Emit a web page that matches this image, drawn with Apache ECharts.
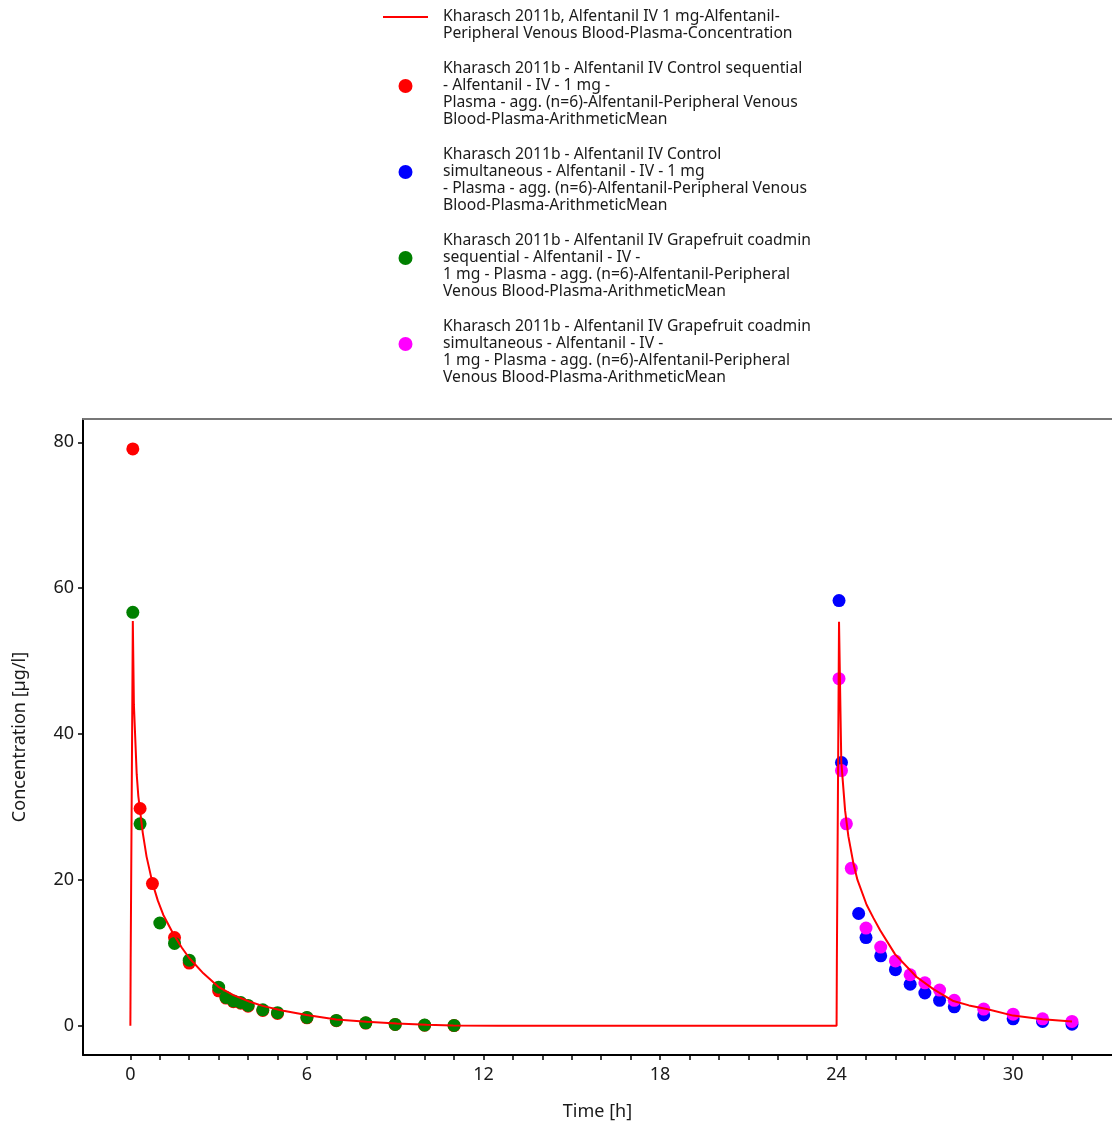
<!DOCTYPE html>
<html>
<head>
<meta charset="utf-8">
<title>Kharasch 2011b Alfentanil IV</title>
<script src="https://cdn.jsdelivr.net/npm/echarts@6/dist/echarts.min.js"></script>
<style>
html,body{margin:0;padding:0;background:#fff;}
#chart{width:1112px;height:1126px;}
</style>
</head>
<body>
<div id="chart"></div>
<script>
// simulation (line)
var simTime = [0, 0.01, 0.083, 0.12, 0.215, 0.27, 0.33, 0.42, 0.55, 0.75, 0.93, 1.12, 1.46, 1.75, 2.0, 2.48, 2.99, 3.5, 4.06, 4.52, 5.2, 5.99, 7.0, 8.03, 9.05, 10.07, 10.97, 12.5, 15, 24.0, 24.01, 24.083, 24.16, 24.29, 24.4, 24.57, 24.71, 25.02, 25.25, 25.48, 25.99, 26.72, 27.3, 27.97, 28.5, 29.1, 30.0, 31.0, 32.0];
var simConc = [0, 9, 55.5, 44, 34.5, 31.5, 29.5, 26.5, 23.2, 19.6, 17.2, 15.2, 12.6, 10.7, 9.3, 7.2, 5.35, 4.2, 3.3, 2.7, 2.06, 1.47, 0.88, 0.55, 0.33, 0.14, 0.05, 0.02, 0, 0, 9, 55.4, 36.2, 29.5, 26.0, 22.3, 20.0, 16.6, 14.8, 13.1, 9.8, 6.7, 5.0, 3.4, 2.8, 2.3, 1.4, 0.9, 0.6];

// observed: control sequential (red)
var ctlSeqTime = [0.083, 0.33, 0.75, 1.5, 2, 3, 3.25, 3.5, 3.75, 4, 4.5, 5, 6, 7, 8, 9, 10, 11];
var ctlSeqConc = [79.1, 29.8, 19.5, 12.1, 8.6, 4.8, 3.8, 3.3, 3.1, 2.7, 2.1, 1.7, 1.1, 0.7, 0.38, 0.18, 0.08, 0.03];

// observed: control simultaneous (blue)
var ctlSimTime = [24.083, 24.167, 24.75, 25, 25.5, 26, 26.5, 27, 27.5, 28, 29, 30, 31, 32];
var ctlSimConc = [58.3, 36.1, 15.4, 12.1, 9.6, 7.7, 5.7, 4.5, 3.5, 2.6, 1.5, 0.96, 0.6, 0.23];

// observed: grapefruit sequential (green)
var gfSeqTime = [0.083, 0.33, 1, 1.5, 2, 3, 3.25, 3.5, 3.75, 4, 4.5, 5, 6, 7, 8, 9, 10, 11];
var gfSeqConc = [56.7, 27.7, 14.1, 11.3, 9.0, 5.3, 3.9, 3.4, 3.2, 2.8, 2.2, 1.8, 1.15, 0.74, 0.41, 0.19, 0.1, 0.05];

// observed: grapefruit simultaneous (magenta)
var gfSimTime = [24.083, 24.167, 24.333, 24.5, 25, 25.5, 26, 26.5, 27, 27.5, 28, 29, 30, 31, 32];
var gfSimConc = [47.6, 35.0, 27.7, 21.6, 13.4, 10.8, 8.9, 7.0, 5.9, 4.9, 3.5, 2.3, 1.6, 0.96, 0.6];

var xTicks = [0,1,2,3,4,5,6,7,8,9,10,11,12,13,14,15,16,17,18,19,20,21,22,23,24,25,26,27,28,29,30,31,32];
var xLabels = [0, 6, 12, 18, 24, 30];
var yLabels = [0, 20, 40, 60, 80];

var names = [
	'Kharasch 2011b, Alfentanil IV 1 mg-Alfentanil-\nPeripheral Venous Blood-Plasma-Concentration',
	'Kharasch 2011b - Alfentanil IV Control sequential\n- Alfentanil - IV - 1 mg -\nPlasma - agg. (n=6)-Alfentanil-Peripheral Venous\nBlood-Plasma-ArithmeticMean',
	'Kharasch 2011b - Alfentanil IV Control\nsimultaneous - Alfentanil - IV - 1 mg\n- Plasma - agg. (n=6)-Alfentanil-Peripheral Venous\nBlood-Plasma-ArithmeticMean',
	'Kharasch 2011b - Alfentanil IV Grapefruit coadmin\nsequential - Alfentanil - IV -\n1 mg - Plasma - agg. (n=6)-Alfentanil-Peripheral\nVenous Blood-Plasma-ArithmeticMean',
	'Kharasch 2011b - Alfentanil IV Grapefruit coadmin\nsimultaneous - Alfentanil - IV -\n1 mg - Plasma - agg. (n=6)-Alfentanil-Peripheral\nVenous Blood-Plasma-ArithmeticMean'
];

function pairs(t, c){
	var out = [];
	for (var i = 0; i < t.length; i++) {
		out.push([t[i], c[i]]);
	}
	return out;
}

var font = 'Noto Sans';
var chart = echarts.init(document.getElementById('chart'));

function scatter(name, color, t, c){
	return {
		name: name,
		type: 'scatter',
		symbol: 'circle',
		symbolSize: 13,
		itemStyle: { color: color, opacity: 1 },
		data: pairs(t, c)
	};
}

var legendData = [{
	name: names[0],
	icon: 'path://M0,0 L45,0 L45,2 L0,2 Z',
	itemStyle: { color: '#ff0000' }
}, names[1], names[2], names[3], names[4]];

var option = {
	backgroundColor: '#fff',
	animation: false,
	textStyle: { fontFamily: font },
	legend: {
		orient: 'vertical',
		left: 383,
		top: -8,
		padding: 0,
		itemGap: 2,
		itemWidth: 45,
		itemHeight: 14,
		selectedMode: false,
		formatter: function(name){
			// spacer line pushes the text block below the marker, like the original
			return '{s| }\n' + name;
		},
		textStyle: {
			fontFamily: font,
			fontSize: 15.7,
			lineHeight: 17,
			color: '#1a1a1a',
			padding: [0, 0, 0, 10],
			rich: {
				s: { fontSize: 4, lineHeight: 16, height: 16 }
			}
		},
		data: legendData
	},
	grid: {
		left: 83,
		right: 0,
		top: 419,
		bottom: 71,
		containLabel: false
	},
	xAxis: [{
		type: 'value',
		min: -1.61,
		max: 33.36,
		name: 'Time [h]',
		nameLocation: 'middle',
		nameGap: 48,
		nameTextStyle: { fontFamily: font, fontSize: 18, color: '#1a1a1a' },
		axisLine: { show: true, onZero: false, lineStyle: { color: '#000', width: 2 } },
		axisTick: { show: true, length: 5, customValues: xTicks, lineStyle: { color: '#000', width: 1.5 } },
		axisLabel: { customValues: xLabels, margin: 11, fontFamily: font, fontSize: 18, color: '#1a1a1a' },
		splitLine: { show: false }
	}, {
		type: 'value',
		position: 'top',
		min: -1.61,
		max: 33.36,
		axisLine: { show: true, onZero: false, lineStyle: { color: '#777', width: 2 } },
		axisTick: { show: false },
		axisLabel: { show: false },
		splitLine: { show: false }
	}],
	yAxis: {
		type: 'value',
		min: -4,
		max: 83.2,
		name: 'Concentration [µg/l]',
		nameLocation: 'middle',
		nameGap: 54,
		nameTextStyle: { fontFamily: font, fontSize: 18, color: '#1a1a1a' },
		axisLine: { show: true, onZero: false, lineStyle: { color: '#000', width: 2 } },
		axisTick: { show: true, length: 5, customValues: yLabels, lineStyle: { color: '#000', width: 1.5 } },
		axisLabel: { customValues: yLabels, margin: 9, fontFamily: font, fontSize: 18, color: '#1a1a1a' },
		splitLine: { show: false }
	},
	series: [
		{
			name: names[0],
			type: 'line',
			symbol: 'none',
			showSymbol: false,
			smooth: false,
			lineStyle: { color: '#ff0000', width: 2 },
			itemStyle: { color: '#ff0000' },
			data: pairs(simTime, simConc)
		},
		scatter(names[1], '#ff0000', ctlSeqTime, ctlSeqConc),
		scatter(names[2], '#0000ff', ctlSimTime, ctlSimConc),
		scatter(names[3], '#008000', gfSeqTime, gfSeqConc),
		scatter(names[4], '#ff00ff', gfSimTime, gfSimConc)
	]
};

chart.setOption(option);
</script>
</body>
</html>
